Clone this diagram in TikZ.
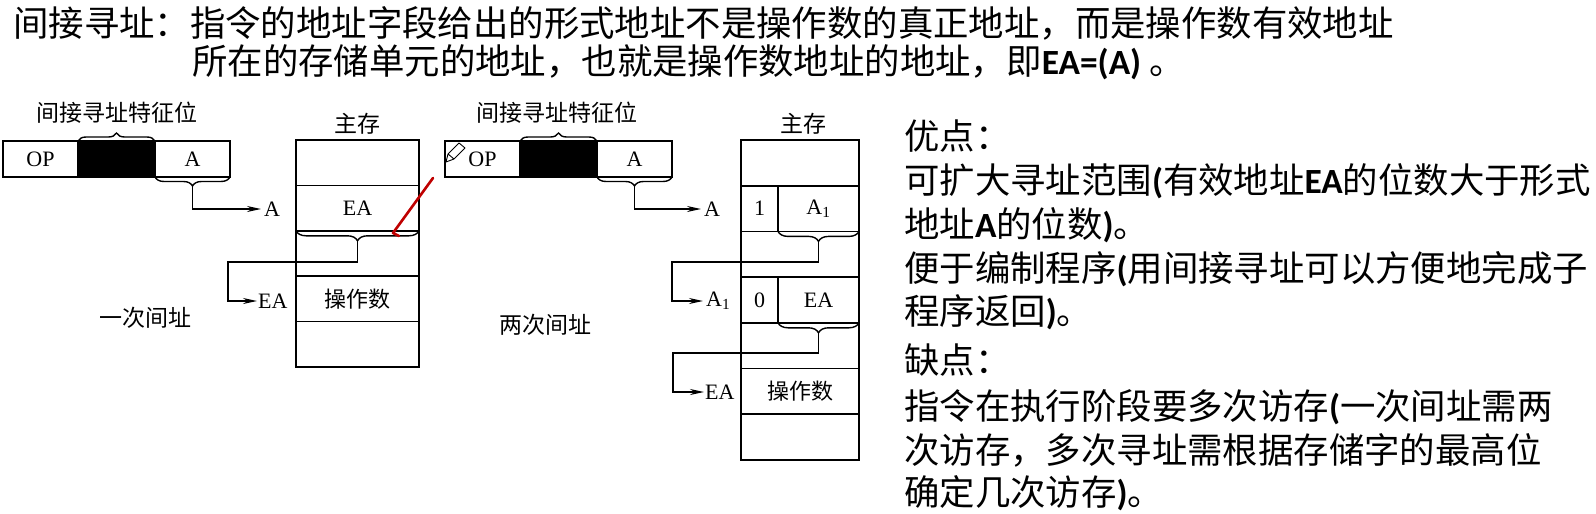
\documentclass[tikz,border=0pt]{standalone}
\usepackage{fontspec}
\setmainfont{Liberation Serif}
\newfontfamily\cjk{Noto Sans CJK SC}
\newfontfamily\calf{Carlito}
\usetikzlibrary{arrows.meta,decorations.pathreplacing}
\newcommand\latb[1]{{\calf\bfseries #1}}
\tikzset{
  big/.style={anchor=base west, inner sep=0, font=\cjk\fontsize{35.4}{40}\selectfont},
  cell/.style={draw, line width=1.6pt, inner sep=0, outer sep=0, anchor=north west, font=\fontsize{22}{24}\selectfont},
  lab/.style={inner sep=0, font=\cjk\fontsize{23}{26}\selectfont},
  albl/.style={inner sep=3pt, anchor=west, font=\fontsize{22}{24}\selectfont},
  conn/.style={line width=1.4pt},
  arr/.style={conn, -{Stealth[length=14pt,width=6pt]}},
  brc/.style={decorate, decoration={brace, amplitude=#1}, line width=1.4pt},
  brc/.default=9,
  redmark/.style={draw=red!75!black, line width=2.6pt, line cap=round, line join=round},
}
\begin{document}
\begin{tikzpicture}[x=1pt,y=-1pt]
\useasboundingbox (0,0) rectangle (1596,514);

% ---------- top text ----------
\node[big] (t1) at (13,36.5) {间接寻址：指令的地址字段给出的形式地址不是操作数的真正地址，而是操作数有效地址};
\node[big] (t2) at (192,74.5) {所在的存储单元的地址，也就是操作数地址的地址，即\latb{EA=(A)} 。};

% ---------- left diagram ----------
\node[cell, minimum width=75, minimum height=36] (op1) at (3,141) {OP};
\node[cell, fill=black, minimum width=77, minimum height=36] (bk1) at (78,141) {};
\node[cell, minimum width=75, minimum height=36] (a1) at (155,141) {A};
\draw[brc=8] (bk1.north west) -- (bk1.north east);
\node[lab] (feat1) at (117,113) {间接寻址特征位};
\draw[brc=9] (a1.south east) -- (a1.south west);
\coordinate (tA1) at (192.5,186);
\node[albl] (la1) at (261,209) {A};
\draw[arr] (tA1) |- (la1.west);

\node[lab] (mm1) at (357,124) {主存};
\node[cell, minimum width=123, minimum height=45.4] (m1r1) at (296,140) {};
\node[cell, minimum width=123, minimum height=45.4] (m1r2) at (296,185.4) {EA};
\node[cell, minimum width=123, minimum height=45.4] (m1r3) at (296,230.8) {};
\node[cell, minimum width=123, minimum height=45.4] (m1r4) at (296,276.2) {\cjk 操作数};
\node[cell, minimum width=123, minimum height=45.4] (m1r5) at (296,321.6) {};
\draw[brc=10] (m1r2.south east) -- (m1r2.south west);
\coordinate (tM1) at (357.5,240.8);
\coordinate (k1) at (228,262);
\node[albl, inner sep=1pt] (le1) at (257,301) {EA};
\draw[arr] (tM1) |- (k1) |- (le1.west);
\node[lab] (c1) at (145,318) {一次间址};

\draw[redmark] (433,178) -- (393,233) -- (399,236);

% ---------- middle diagram ----------
\node[cell, minimum width=75, minimum height=36] (op2) at (445,141) {OP};
\node[cell, fill=black, minimum width=77, minimum height=36] (bk2) at (520,141) {};
\node[cell, minimum width=75, minimum height=36] (a2) at (597,141) {A};
\draw[brc=8] (bk2.north west) -- (bk2.north east);
\node[lab] (feat2) at (557,113) {间接寻址特征位};
\draw[brc=9] (a2.south east) -- (a2.south west);
\coordinate (tA2) at (634.5,186);
\node[albl] (la2) at (701,209) {A};
\draw[arr] (tA2) |- (la2.west);
% pencil icon
\draw[line width=0.9pt, line join=round] (446,162) -- (448,154) -- (459,143) -- (465,148) -- (454,159) -- cycle (448,154) -- (454,159);

\node[lab] (mm2) at (803,124) {主存};
\node[cell, minimum width=118, minimum height=45.7] (m2r1) at (741,140) {};
\node[cell, minimum width=37, minimum height=45.7] (m2r2a) at (741,185.7) {1};
\node[cell, minimum width=81, minimum height=45.7] (m2r2b) at (778,185.7) {A\textsubscript{1}};
\node[cell, minimum width=118, minimum height=45.7] (m2r3) at (741,231.4) {};
\node[cell, minimum width=37, minimum height=45.7] (m2r4a) at (741,277.1) {0};
\node[cell, minimum width=81, minimum height=45.7] (m2r4b) at (778,277.1) {EA};
\node[cell, minimum width=118, minimum height=45.7] (m2r5) at (741,322.8) {};
\node[cell, minimum width=118, minimum height=45.7] (m2r6) at (741,368.5) {\cjk 操作数};
\node[cell, minimum width=118, minimum height=45.7] (m2r7) at (741,414.2) {};

\draw[brc=10] (m2r2b.south east) -- (m2r2b.south west);
\coordinate (tM2) at (818.5,241.4);
\coordinate (k2) at (672,262);
\node[albl] (la3) at (703,301) {A\textsubscript{1}};
\draw[arr] (tM2) |- (k2) |- (la3.west);

\draw[brc=10] (m2r4b.south east) -- (m2r4b.south west);
\coordinate (tM3) at (818.5,332.8);
\coordinate (k3) at (673,353);
\node[albl, inner sep=1pt] (le2) at (704,392) {EA};
\draw[arr] (tM3) |- (k3) |- (le2.west);
\node[lab] (c2) at (545,325) {两次间址};

% ---------- right text ----------
\node[big] (r1) at (904,149.5) {优点：};
\node[big] (r2) at (904,193.5) {可扩大寻址范围\latb{(}有效地址\latb{EA}的位数大于形式};
\node[big] (r3) at (904,237.5) {地址\latb{A}的位数\latb{)}。};
\node[big] (r4) at (904,281.5) {便于编制程序\latb{(}用间接寻址可以方便地完成子};
\node[big] (r5) at (904,324.5) {程序返回\latb{)}。};
\node[big] (r6) at (904,373.5) {缺点：};
\node[big] (r7) at (904,419.5) {指令在执行阶段要多次访存\latb{(}一次间址需两};
\node[big] (r8) at (904,463.5) {次访存，多次寻址需根据存储字的最高位};
\node[big] (r9) at (904,505.5) {确定几次访存\latb{)}。};
\end{tikzpicture}
\end{document}
